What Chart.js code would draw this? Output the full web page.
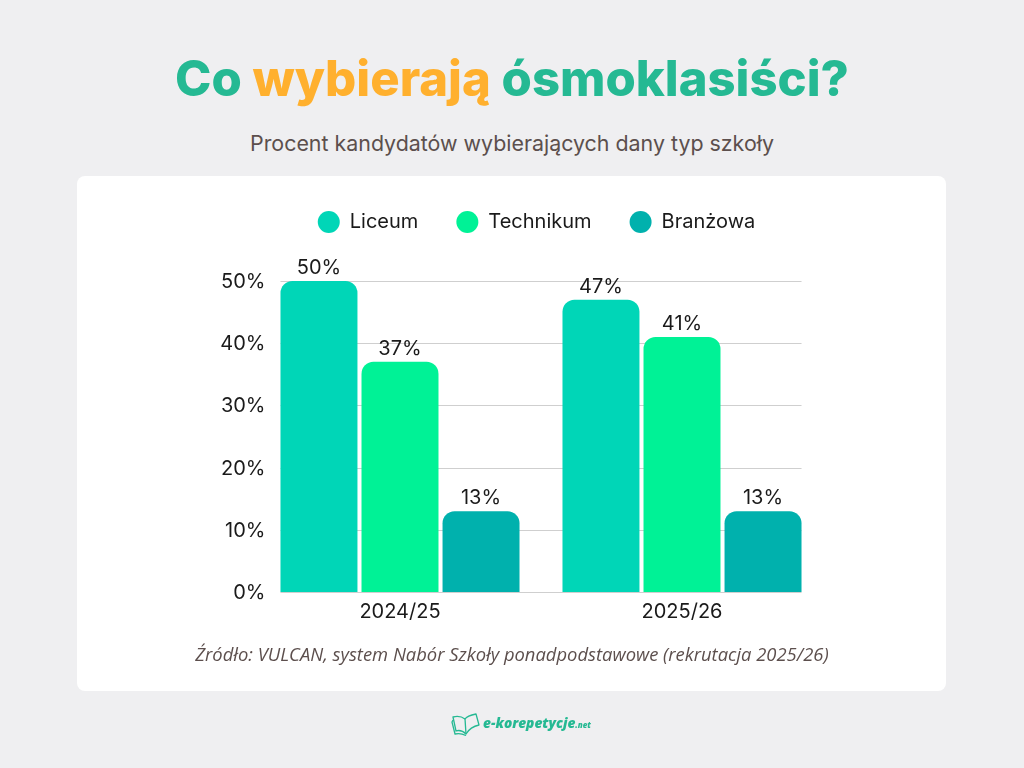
<!DOCTYPE html>
<html lang="pl">
<head>
<meta charset="utf-8">
<title>Co wybierają ósmoklasiści?</title>
<script src="https://cdn.jsdelivr.net/npm/chart.js@4"></script>
<style>
  html, body { margin: 0; padding: 0; }
  body { position: relative; width: 1024px; height: 768px; overflow: hidden; background: #efeff1; font-family: Inter, sans-serif; }
  .card { position: absolute; left: 77px; top: 176px; width: 869px; height: 515px; background: #fff; border-radius: 8px; }
  #schoolChart { position: absolute; left: 0; top: 0; }
  .title { position: absolute; left: 0; width: 1024px; top: 45px; text-align: center; font: 800 49px/68px Inter, sans-serif; color: #25b993; white-space: nowrap; }
  .title b { font-weight: 800; color: #ffb02e; }
  .subtitle { position: absolute; left: 0; width: 1024px; top: 129px; text-align: center; font: 400 21.4px/28px Inter, sans-serif; color: #5c4f4d; white-space: nowrap; }
  .source { position: absolute; left: 0; width: 1024px; top: 641px; text-align: center; font: italic 400 18.4px/26px "Open Sans", sans-serif; color: #5c4f4d; white-space: nowrap; }
  .logo { position: absolute; left: 451px; top: 711px; display: flex; align-items: center; color: #25b993; }
  .logo span { font: italic 800 13.7px/24px "Open Sans", sans-serif; margin-left: 2px; }
  .logo small { font-size: 8px; }
</style>
</head>
<body>
<div class="card"></div>
<div class="title">Co <b>wybierają</b> ósmoklasiści?</div>
<div class="subtitle">Procent kandydatów wybierających dany typ szkoły</div>
<canvas id="schoolChart" width="1024" height="768"></canvas>
<div class="source">Źródło: VULCAN, system Nabór Szkoły ponadpodstawowe (rekrutacja 2025/26)</div>
<div class="logo">
  <svg width="30" height="24" viewBox="0 0 30 24" fill="none" stroke="#25b993" stroke-width="1.3" stroke-linejoin="round">
    <path d="M14 7 C10 4 6 4 2 5 L5 19 C8 18 12 19 15 22 C18 17 23 14 28 13 L25 2 C20 3 16 4 14 7 Z"/>
    <path d="M14 7 L15 22"/>
    <path d="M2 8 L1 10 L4 22 C8 21 12 22 15 23.5"/>
  </svg>
  <span>e-korepetycje<small>.net</small></span>
</div>
<script>
// ── Data ──────────────────────────────────────────────────────────────────────
const SCHOOL_YEARS = ['2024/25', '2025/26'];
const SERIES_NAMES = ['Liceum', 'Technikum', 'Branżowa'];
const LICEUM = [50, 47];
const TECHNIKUM = [37, 41];
const BRANZOWA = [13, 13];
const SERIES_COLORS = ['#00d6b7', '#00f296', '#00b1ad'];
const Y_TICKS = [0, 10, 20, 30, 40, 50];

const INK = '#1a1a1a';
const FONT = { family: 'Inter, sans-serif', size: 20, weight: '400' };
const FONT_CSS = `${FONT.weight} ${FONT.size}px ${FONT.family}`;

// ── Plugins ───────────────────────────────────────────────────────────────────
// Extra room under the legend, the library only leaves a fixed margin there.
const legendGap = {
  id: 'legendGap',
  beforeInit(chart) {
    const fit = chart.legend.fit;
    chart.legend.fit = function () {
      fit.call(this);
      this.height += 39;
    };
  },
};

// Grid lines run only from the first bar to the last one, and the y labels sit
// just past the plot edge, where the scale would clip its own labels.
const barGrid = {
  id: 'barGrid',
  beforeDatasetsDraw(chart) {
    const { ctx, chartArea, scales: { y } } = chart;
    const first = chart.getDatasetMeta(0).data[0];
    const last = chart.getDatasetMeta(2).data[1];
    const x0 = first.x - first.width / 2;
    const x1 = last.x + last.width / 2;
    ctx.save();
    ctx.strokeStyle = '#cfcfcf';
    ctx.lineWidth = 1;
    ctx.font = FONT_CSS;
    ctx.fillStyle = INK;
    ctx.textAlign = 'right';
    ctx.textBaseline = 'middle';
    Y_TICKS.forEach(t => {
      const py = Math.round(y.getPixelForValue(t)) + 0.5;
      ctx.beginPath();
      ctx.moveTo(x0, py);
      ctx.lineTo(x1, py);
      ctx.stroke();
      ctx.fillText(`${t}%`, chartArea.left + 6.5, py);
    });
    ctx.restore();
  },
};

const valueLabels = {
  id: 'valueLabels',
  afterDatasetsDraw(chart) {
    const { ctx } = chart;
    ctx.save();
    ctx.font = FONT_CSS;
    ctx.fillStyle = INK;
    ctx.textAlign = 'center';
    ctx.textBaseline = 'alphabetic';
    chart.data.datasets.forEach((ds, i) => {
      chart.getDatasetMeta(i).data.forEach((bar, j) => {
        ctx.fillText(`${ds.data[j]}%`, bar.x, bar.y - 7);
      });
    });
    ctx.restore();
  },
};

// ── Chart ─────────────────────────────────────────────────────────────────────
new Chart(document.getElementById('schoolChart'), {
  type: 'bar',
  data: {
    labels: SCHOOL_YEARS,
    datasets: [LICEUM, TECHNIKUM, BRANZOWA].map((values, i) => ({
      label: SERIES_NAMES[i],
      data: values,
      backgroundColor: SERIES_COLORS[i],
      borderRadius: { topLeft: 12, topRight: 12 },
      borderSkipped: 'bottom',
      barPercentage: 0.95,
      categoryPercentage: 0.862,
    })),
  },
  options: {
    responsive: false,
    animation: false,
    devicePixelRatio: 1,
    layout: { padding: { left: 250, right: 201, top: 174, bottom: 144 } },
    plugins: {
      tooltip: { enabled: false },
      legend: {
        position: 'top',
        labels: {
          usePointStyle: true,
          pointStyle: 'circle',
          pointStyleWidth: 22,
          boxHeight: 15.5,
          padding: 38,
          color: INK,
          font: FONT,
        },
      },
    },
    scales: {
      x: {
        grid: { display: false },
        border: { display: false },
        ticks: { color: INK, font: FONT, padding: 0, maxRotation: 0 },
      },
      y: {
        min: 0,
        max: 50,
        afterFit(scale) { scale.width = 9; },
        afterBuildTicks(scale) { scale.ticks = Y_TICKS.map(value => ({ value })); },
        grid: { display: false },
        border: { display: false },
        ticks: { display: false },
      },
    },
  },
  plugins: [legendGap, barGrid, valueLabels],
});
</script>
</body>
</html>
